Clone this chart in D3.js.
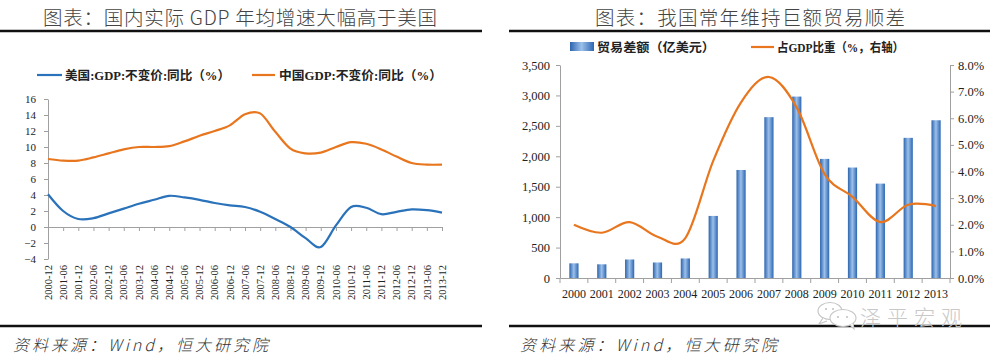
<!DOCTYPE html>
<html><head><meta charset="utf-8">
<script src="https://cdn.jsdelivr.net/npm/d3@7"></script>
<style>
body{margin:0;background:#fff;}
svg{display:block;}
</style></head>
<body>
<svg id="c" width="994" height="360"></svg>
<script>
// ---------- data ----------
const usCats = ["2000-12","2001-06","2001-12","2002-06","2002-12","2003-06","2003-12","2004-06","2004-12","2005-06","2005-12","2006-06","2006-12","2007-06","2007-12","2008-06","2008-12","2009-06","2009-12","2010-06","2010-12","2011-06","2011-12","2012-06","2012-12","2013-06","2013-12"];
const usGDP = [4.1,2.0,1.0,1.1,1.7,2.3,2.9,3.4,3.9,3.7,3.4,3.0,2.7,2.5,1.9,1.0,0.0,-1.4,-2.5,0.2,2.5,2.4,1.6,1.9,2.2,2.1,1.8];
const cnGDP = [8.5,8.3,8.3,8.7,9.2,9.7,10.0,10.0,10.1,10.7,11.4,12.0,12.7,14.1,14.2,11.9,9.8,9.2,9.3,10.0,10.6,10.4,9.7,8.8,8.0,7.8,7.8];
const leftTicks = [-4,-2,0,2,4,6,8,10,12,14,16];

const years = ["2000","2001","2002","2003","2004","2005","2006","2007","2008","2009","2010","2011","2012","2013"];
const tradeSurplus = [241,225,304,255,321,1020,1775,2643,2981,1957,1815,1551,2303,2592];
const surplusRatio = [2.0,1.7,2.1,1.55,1.5,4.4,6.6,7.55,6.4,3.9,3.05,2.1,2.75,2.7];
const rightTicksL = [0,500,1000,1500,2000,2500,3000,3500];
const rightTicksR = [0,1,2,3,4,5,6,7,8];

const titleL = "图表：国内实际 GDP 年均增速大幅高于美国";
const titleR = "图表：我国常年维持巨额贸易顺差";
const legUS = "美国:GDP:不变价:同比（%）";
const legCN = "中国GDP:不变价:同比（%）";
const legBar = "贸易差额（亿美元）";
const legLine = "占GDP比重（%，右轴）";
const source = "资料来源：Wind，恒大研究院";
const mark = "泽平宏观";

// ---------- styles ----------
const BLUE = "#2A72BA", ORANGE = "#E8761E", AX = "#A0A0A0";
const SERIF = "'Liberation Serif','Times New Roman',serif";
const CJK = "'Noto Sans CJK SC','Noto Sans',sans-serif";
const LEG = "'Liberation Serif','Noto Sans CJK SC',serif";

const svg = d3.select("#c");
const defs = svg.append("defs");
const g = defs.append("linearGradient").attr("id","barG").attr("x1","0").attr("x2","1").attr("y1","0").attr("y2","0");
g.append("stop").attr("offset","0%").attr("stop-color","#2C64AE");
g.append("stop").attr("offset","48%").attr("stop-color","#9CC0EA");
g.append("stop").attr("offset","100%").attr("stop-color","#2C66B2");

const smooth = d3.curveCardinal.tension(0);

// ---------- frames (titles, rules, source) ----------
function frame(x0, x1, cx, title, tlen, srcX, srcLen){
  svg.append("text").attr("x",cx).attr("y",25).attr("text-anchor","middle")
    .attr("font-family",CJK).attr("font-weight",300).attr("font-size",19.5).attr("fill","#444")
    .attr("textLength",tlen).attr("lengthAdjust","spacing").text(title);
  svg.append("line").attr("x1",x0).attr("x2",x1).attr("y1",31).attr("y2",31).attr("stroke","#111").attr("stroke-width",2.6);
  svg.append("line").attr("x1",x0).attr("x2",x1).attr("y1",326).attr("y2",326).attr("stroke","#111").attr("stroke-width",2.6);
  svg.append("text").attr("x",srcX).attr("y",351).attr("font-family",CJK).attr("font-style","italic")
    .attr("font-weight",300).attr("font-size",16).attr("fill","#333")
    .attr("textLength",srcLen).attr("lengthAdjust","spacing").text(source);
}
frame(0,482,240,titleL,394,13,255);
frame(509,990,750,titleR,310,520,257);

// ---------- left chart ----------
const xL = d3.scalePoint().domain(usCats).range([48,442]);
const yL = d3.scaleLinear().domain([-4,16]).range([259,99]);

const ya = svg.append("g").attr("transform","translate(48,0)")
  .call(d3.axisLeft(yL).tickValues(leftTicks).tickSize(4).tickSizeOuter(0).tickPadding(8).tickFormat(d3.format("d")));
ya.select(".domain").attr("stroke",AX);
ya.selectAll(".tick line").attr("stroke",AX);
ya.selectAll("text").attr("font-family",SERIF).attr("font-size",11).attr("fill","#222");

const xa = svg.append("g").attr("transform",`translate(0,${yL(0)})`)
  .call(d3.axisBottom(xL).tickSize(4).tickSizeOuter(0).tickFormat(""));
xa.select(".domain").attr("stroke",AX);
xa.selectAll(".tick line").attr("stroke",AX);

svg.append("g").selectAll("text").data(usCats).join("text")
  .attr("transform",d=>`translate(${xL(d)},265) rotate(-90)`)
  .attr("text-anchor","end").attr("dy","0.35em")
  .attr("font-family",SERIF).attr("font-size",10.5).attr("fill","#222").text(d=>d);

const lineL = d3.line().x((d,i)=>xL(usCats[i])).y(d=>yL(d)).curve(smooth);
svg.append("path").datum(cnGDP).attr("d",lineL).attr("fill","none").attr("stroke",ORANGE).attr("stroke-width",2.2);
svg.append("path").datum(usGDP).attr("d",lineL).attr("fill","none").attr("stroke",BLUE).attr("stroke-width",2.2);

// legend left
svg.append("line").attr("x1",37).attr("x2",62).attr("y1",75).attr("y2",75).attr("stroke",BLUE).attr("stroke-width",2.2);
svg.append("text").attr("x",65).attr("y",79.5).attr("font-family",LEG).attr("font-weight","bold").attr("font-size",12.5)
  .attr("fill","#222").attr("textLength",165).attr("lengthAdjust","spacingAndGlyphs").text(legUS);
svg.append("line").attr("x1",252).attr("x2",275).attr("y1",75).attr("y2",75).attr("stroke",ORANGE).attr("stroke-width",2.2);
svg.append("text").attr("x",279).attr("y",79.5).attr("font-family",LEG).attr("font-weight","bold").attr("font-size",12.5)
  .attr("fill","#222").attr("textLength",163).attr("lengthAdjust","spacingAndGlyphs").text(legCN);

// ---------- right chart ----------
const xR = d3.scaleBand().domain(years).range([560,950]).padding(0);
const yR = d3.scaleLinear().domain([0,3500]).range([278,65]);
const yR2 = d3.scaleLinear().domain([0,8]).range([278,65]);
const bw = xR.bandwidth()*0.33;

const ra = svg.append("g").attr("transform","translate(560,0)")
  .call(d3.axisLeft(yR).tickValues(rightTicksL).tickSize(4).tickSizeOuter(0).tickPadding(6).tickFormat(d3.format(",")));
ra.select(".domain").attr("stroke",AX);
ra.selectAll(".tick line").attr("stroke",AX);
ra.selectAll("text").attr("font-family",SERIF).attr("font-size",12.5).attr("fill","#222");

const rb = svg.append("g").attr("transform","translate(950,0)")
  .call(d3.axisRight(yR2).tickValues(rightTicksR).tickSize(4).tickSizeOuter(0).tickPadding(4).tickFormat(d=>d3.format(".1f")(d)+"%"));
rb.select(".domain").attr("stroke",AX);
rb.selectAll(".tick line").attr("stroke",AX);
rb.selectAll("text").attr("font-family",SERIF).attr("font-size",12.5).attr("fill","#222");

const bx = svg.append("g").attr("transform","translate(0,278)")
  .call(d3.axisBottom(xR).tickSize(0).tickSizeOuter(0).tickPadding(11));
bx.select(".domain").attr("stroke",AX);
bx.selectAll("text").attr("font-family",SERIF).attr("font-size",12).attr("fill","#222");
// boundary ticks
const bounds = years.map(d=>xR(d)).concat([xR(years[years.length-1])+xR.step()]);
svg.append("g").selectAll("line").data(bounds).join("line")
  .attr("x1",d=>d).attr("x2",d=>d).attr("y1",278).attr("y2",283).attr("stroke",AX);

svg.append("g").selectAll("rect").data(tradeSurplus).join("rect")
  .attr("x",(d,i)=>xR(years[i])+xR.bandwidth()/2-bw/2).attr("width",bw)
  .attr("y",d=>yR(d)).attr("height",d=>yR(0)-yR(d)).attr("fill","url(#barG)");

const lineR = d3.line().x((d,i)=>xR(years[i])+xR.bandwidth()/2).y(d=>yR2(d)).curve(smooth);
svg.append("path").datum(surplusRatio).attr("d",lineR).attr("fill","none").attr("stroke",ORANGE).attr("stroke-width",2.2);

// legend right
svg.append("rect").attr("x",570).attr("y",42).attr("width",24).attr("height",9).attr("fill","url(#barG)");
svg.append("text").attr("x",597).attr("y",52).attr("font-family",LEG).attr("font-weight","bold").attr("font-size",12.5)
  .attr("fill","#222").attr("textLength",118).attr("lengthAdjust","spacingAndGlyphs").text(legBar);
svg.append("line").attr("x1",751).attr("x2",774).attr("y1",47).attr("y2",47).attr("stroke",ORANGE).attr("stroke-width",2.2);
svg.append("text").attr("x",777).attr("y",52).attr("font-family",LEG).attr("font-weight","bold").attr("font-size",12.5)
  .attr("fill","#222").attr("textLength",127).attr("lengthAdjust","spacingAndGlyphs").text(legLine);

// ---------- watermark ----------
const wm = svg.append("g").attr("fill","#fff").attr("stroke","#c4c4c4").attr("stroke-width",1.1);
wm.append("ellipse").attr("cx",830).attr("cy",311).attr("rx",12).attr("ry",8.5);
wm.append("path").attr("d","M823,318 l-4,6 l8,-3");
wm.append("ellipse").attr("cx",843).attr("cy",318).attr("rx",13).attr("ry",8.5);
wm.append("path").attr("d","M850,325 l4,4 l-1,-6").attr("fill","#fff");
[[826,309],[833,309],[838,317],[847,317]].forEach(p=>wm.append("circle").attr("cx",p[0]).attr("cy",p[1]).attr("r",1.1).attr("fill","#c4c4c4").attr("stroke","none"));
svg.append("text").attr("x",860).attr("y",325).attr("font-family",CJK).attr("font-weight",300).attr("font-size",21)
  .attr("fill","#c8c8c8").attr("textLength",102).attr("lengthAdjust","spacing").text(mark);
</script>
</body></html>
